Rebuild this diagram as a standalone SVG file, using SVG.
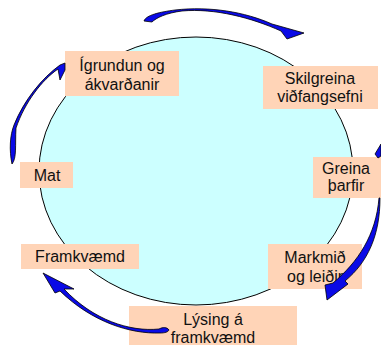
<svg xmlns="http://www.w3.org/2000/svg" width="381" height="345" viewBox="0 0 381 345">
<style>
.box{fill:#ffd4b7;stroke:none}
.t{font-family:"Liberation Sans",Arial,sans-serif;font-size:16px;fill:#111;text-anchor:middle}
.arr{fill:#0a0ae6;stroke:#000;stroke-width:0.8;stroke-linejoin:round}
</style>
<rect width="381" height="345" fill="#fff"/>
<ellipse id="circle" cx="196" cy="171" rx="157" ry="134" fill="#ccffff" stroke="#000" stroke-width="1"/>
<g id="n-igrundun"><rect class="box" x="65" y="51" width="114" height="45"/><text class="t" x="122" y="71">Ígrundun og</text><text class="t" x="122" y="90">ákvarðanir</text></g>
<g id="n-skilgreina"><rect class="box" x="263" y="66" width="115" height="43"/><text class="t" x="320" y="84">Skilgreina</text><text class="t" x="320" y="102">viðfangsefni</text></g>
<g id="n-mat"><rect class="box" x="20" y="162" width="53" height="26"/><text class="t" x="47" y="181">Mat</text></g>
<g id="n-greina"><rect class="box" x="313" y="157" width="68" height="41"/><text class="t" x="346" y="174">Greina</text><text class="t" x="346" y="191">þarfir</text></g>
<g id="n-framkvaemd"><rect class="box" x="21" y="244" width="118" height="25"/><text class="t" x="80" y="262">Framkvæmd</text></g>
<g id="n-markmid"><rect class="box" x="268" y="244" width="94" height="45"/><text class="t" x="315" y="263">Markmið</text><text class="t" x="315" y="282">og leiðir</text></g>
<g id="n-lysing"><rect class="box" x="129" y="306" width="168" height="45"/><text class="t" x="213" y="325">Lýsing á</text><text class="t" x="213" y="343">framkvæmd</text></g>
<g id="connectors">
<path class="arr" d="M144,21 C146,15 160,12 175,10 C210,6 245,12 272,24 L304,33 L287,39 L281,31 C252,18 215,8 182,11 C166,13 156,18 152,22 Z"/>
<path class="arr" d="M12,164 C9,150 10,135 14,125 C24,100 42,78 60,65 L65,63 L65,70 L60,80 L58,69 C42,80 25,102 16,128 C15,145 17,158 12,164 Z"/>
<path class="arr" d="M381,144 L375,154 L378,158 L381,156 Z"/>
<path class="arr" d="M380,198 C380,235 368,262 345,281 L348,284 L327,300 L325,285 L333,283 C358,262 376,235 379,198 Z"/>
<path class="arr" d="M60,291 C92,322 130,334 160,333 C165,333 168,332 169,330 C167,327 163,327 159,329 C130,332 93,320 64,289 L74,289 L43,273 L55,293 Z"/>
</g>
</svg>
